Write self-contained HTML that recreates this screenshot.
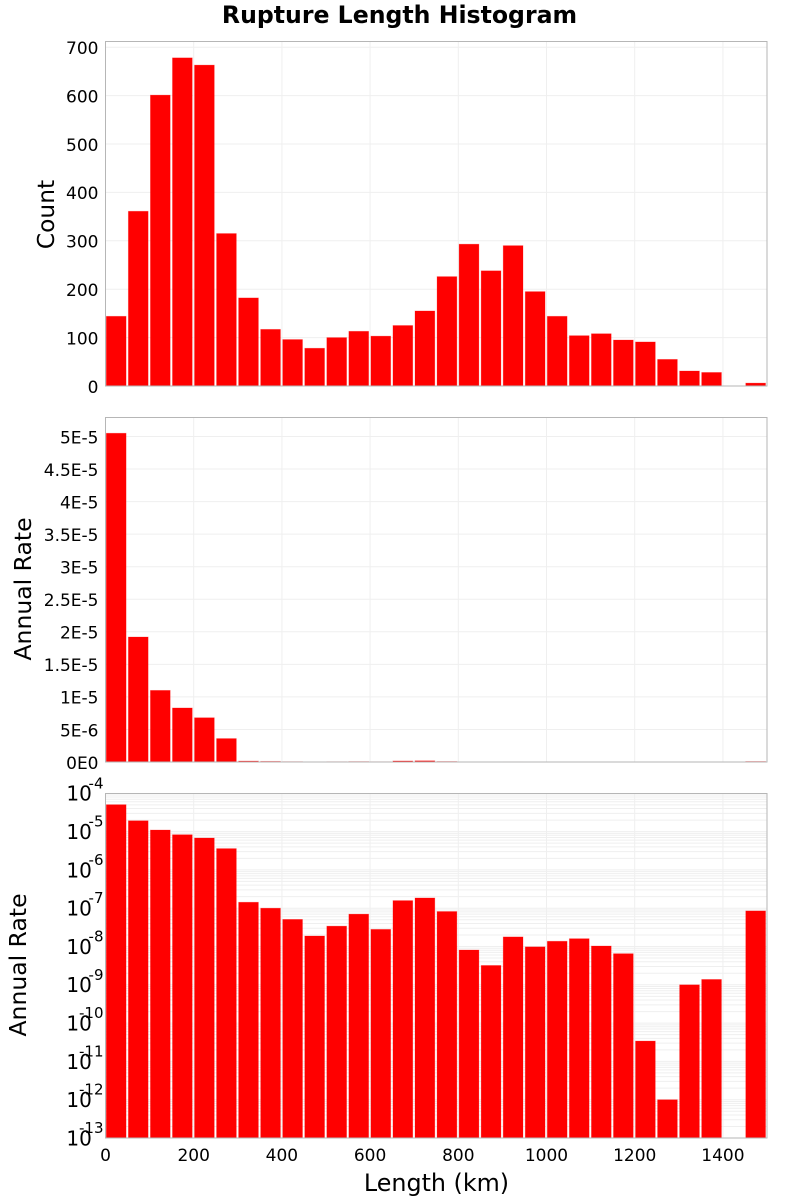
<!DOCTYPE html>
<html>
<head>
<meta charset="utf-8">
<title>Rupture Length Histogram</title>
<style>
html,body{margin:0;padding:0;background:#fff;}
svg{display:block;font-family:"DejaVu Sans","Liberation Sans",sans-serif;}
</style>
</head>
<body>
<svg id="chart" xmlns="http://www.w3.org/2000/svg" width="800" height="1200" viewBox="0 0 800 1200">
<text x="399.5" y="23" text-anchor="middle" font-size="23.6" font-weight="bold" fill="#000">Rupture Length Histogram</text>
<text x="436.5" y="1191" text-anchor="middle" font-size="23.8" fill="#000">Length (km)</text>
<text transform="translate(54,214.5) rotate(-90)" text-anchor="middle" font-size="23.3" fill="#000">Count</text>
<text transform="translate(31,589) rotate(-90)" text-anchor="middle" font-size="23.5" fill="#000">Annual Rate</text>
<text transform="translate(26,965) rotate(-90)" text-anchor="middle" font-size="23.5" fill="#000">Annual Rate</text>
</svg>
<script>
var binWidthKm = 50;
var countValues = [144,361,601,678,663,315,182,117,96,78,100,113,103,125,155,226,293,238,290,195,144,104,108,95,91,55,31,28,0,6];
var rateValues = [5.05e-5,1.92e-5,1.1e-5,8.3e-6,6.8e-6,3.6e-6,1.43e-7,1e-7,5.1e-8,1.88e-8,3.4e-8,7e-8,2.8e-8,1.58e-7,1.85e-7,8.2e-8,8.1e-9,3.2e-9,1.78e-8,9.8e-9,1.37e-8,1.6e-8,1.03e-8,6.5e-9,3.4e-11,1e-12,1e-9,1.38e-9,0,8.5e-8];
var xTicks = [0,200,400,600,800,1000,1200,1400];
var countTicks = [0,100,200,300,400,500,600,700];
var rateTicks = [0,5e-6,1e-5,1.5e-5,2e-5,2.5e-5,3e-5,3.5e-5,4e-5,4.5e-5,5e-5];
var rateTickLabels = ['0E0','5E-6','1E-5','1.5E-5','2E-5','2.5E-5','3E-5','3.5E-5','4E-5','4.5E-5','5E-5'];
var logExponents = [-4,-5,-6,-7,-8,-9,-10,-11,-12,-13];
var logMinorMultiples = [2,3,4,5,6,7,8,9];

var svg = document.getElementById('chart');
var NS = 'http://www.w3.org/2000/svg';
var LEFT = 105.5, RIGHT = 767;
var GRID = '#efefef', FRAME = '#b6b6b6', RED = '#ff0000';

function xPos(km) { return LEFT + (km / 1500) * (RIGHT - LEFT); }
function countY(v) { return 386 - v * 0.484; }
function rateY(v) { return 762 - v * 6510000; }
function logY(v) { return 793.3 + (-4 - Math.log10(v)) * 38.3; }

function line(x1, y1, x2, y2, color, width) {
  var el = document.createElementNS(NS, 'line');
  el.setAttribute('x1', x1);
  el.setAttribute('y1', y1);
  el.setAttribute('x2', x2);
  el.setAttribute('y2', y2);
  el.setAttribute('stroke', color);
  el.setAttribute('stroke-width', width);
  
  
  svg.appendChild(el);
}
function label(x, y, str, size, anchor) {
  var el = document.createElementNS(NS, 'text');
  el.setAttribute('x', x);
  el.setAttribute('y', y);
  el.setAttribute('font-size', size);
  el.setAttribute('text-anchor', anchor);
  el.setAttribute('fill', '#000');
  el.textContent = str;
  
  
  svg.appendChild(el);
}
function bars(values, yFn, baseY, panelTop) {
  values.forEach(function (v, i) {
    if (!(v > 0)) return;
    var top = Math.max(yFn(v), panelTop);
    var r = document.createElementNS(NS, 'rect');
    r.setAttribute('x', xPos(i * binWidthKm) + 0.8);
    r.setAttribute('y', top);
    r.setAttribute('width', 19.8);
    r.setAttribute('height', Math.max(baseY - top, 0));
    r.setAttribute('fill', RED);
    r.setAttribute('stroke', RED);
    r.setAttribute('stroke-opacity', '0.3');
    r.setAttribute('stroke-width', '0.8');
    
    
    svg.appendChild(r);
  });
}
function frame(top, bottom) {
  var r = document.createElementNS(NS, 'rect');
  r.setAttribute('x', LEFT);
  r.setAttribute('y', top);
  r.setAttribute('width', RIGHT - LEFT);
  r.setAttribute('height', bottom - top);
  r.setAttribute('fill', 'none');
  r.setAttribute('stroke', FRAME);
  r.setAttribute('stroke-width', 1);
  
  
  svg.appendChild(r);
}
function verticalGrid(top, bottom) {
  xTicks.forEach(function (t) {
    if (t > 0) line(xPos(t), top, xPos(t), bottom, GRID, 1);
  });
}

/* count panel */
verticalGrid(41.5, 386);
countTicks.forEach(function (t) {
  if (t > 0) line(LEFT, countY(t), RIGHT, countY(t), GRID, 1);
  label(98.5, countY(t) + 6.8, String(t), 17, 'end');
});
bars(countValues, countY, 386, 41.5);
frame(41.5, 386);

/* linear rate panel */
verticalGrid(417.5, 762);
rateTicks.forEach(function (t, i) {
  if (t > 0) line(LEFT, rateY(t), RIGHT, rateY(t), GRID, 1);
  label(98.5, rateY(t) + 6.8, rateTickLabels[i], 17, 'end');
});
bars(rateValues, rateY, 762, 417.5);
frame(417.5, 762);

/* log rate panel */
verticalGrid(793.5, 1138);
logExponents.forEach(function (e) {
  var base = Math.pow(10, e);
  if (e > -13) {
    logMinorMultiples.forEach(function (m) {
      line(LEFT, logY(m * Math.pow(10, e - 1)), RIGHT, logY(m * Math.pow(10, e - 1)), GRID, 1);
    });
  }
  if (e < -4) line(LEFT, logY(base), RIGHT, logY(base), GRID, 1);
  var y = 793.3 + (-4 - e) * 38.3;
  label(91.8, y + 7.4, '10', 20, 'end');
  label(103.5, y - 5, String(e), 15, 'end');
});
bars(rateValues, logY, 1138, 793.5);
frame(793.5, 1138);

/* shared x axis labels */
xTicks.forEach(function (t) {
  label(xPos(t), 1161, String(t), 17, 'middle');
});
</script>
</body>
</html>
